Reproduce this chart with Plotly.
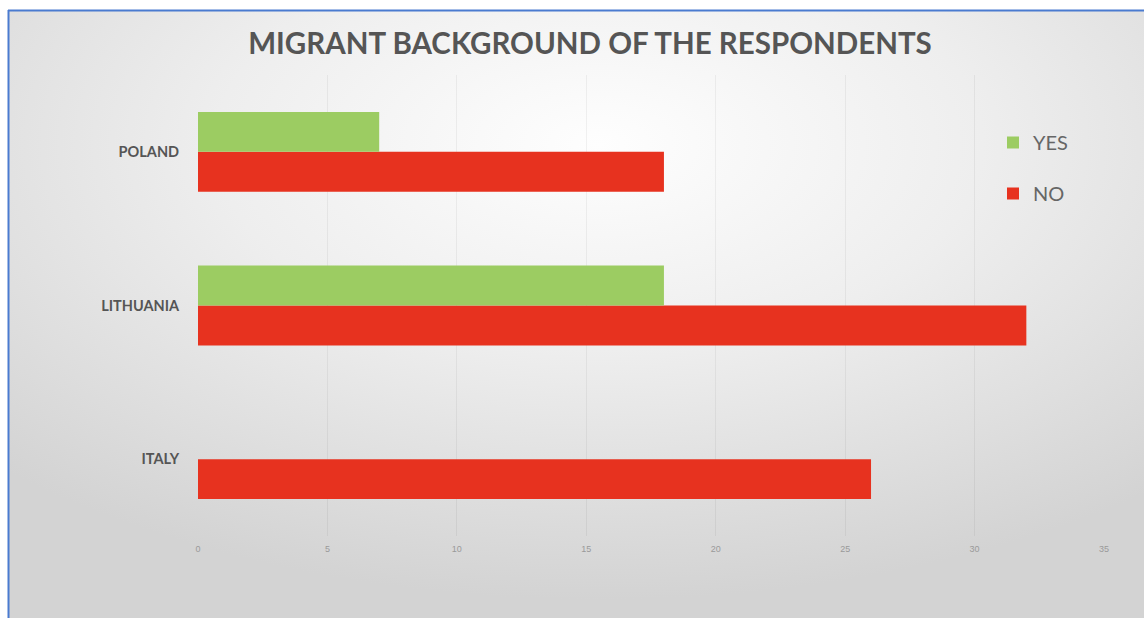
import base64
import plotly.graph_objects as go

# Survey counts by country
countries = ["ITALY", "LITHUANIA", "POLAND"]
yes_counts = [0, 18, 7]
no_counts = [26, 32, 18]
x_ticks = [0, 5, 10, 15, 20, 25, 30, 35]

W, H = 1144, 618
L, R, T, B = 198, 40, 75, 82
plot_w = W - L - R
plot_h = H - T - B

# Soft radial-gradient card with a thin blue frame on the top and left
bg_svg = f"""<svg xmlns='http://www.w3.org/2000/svg' width='{W}' height='{H}' viewBox='0 0 {W} {H}' preserveAspectRatio='none'>
<defs>
<radialGradient id='g' cx='52%' cy='22%' r='75%'>
<stop offset='0' stop-color='#fefefe'/>
<stop offset='0.45' stop-color='#eeeeee'/>
<stop offset='1' stop-color='#d3d3d3'/>
</radialGradient>
</defs>
<rect x='0' y='0' width='{W}' height='{H}' fill='#ffffff'/>
<rect x='9' y='11' width='{W - 9}' height='{H - 11}' fill='url(#g)'/>
<line x1='8' y1='10.5' x2='{W}' y2='10.5' stroke='#4a7bd0' stroke-width='2'/>
<line x1='8.5' y1='10' x2='8.5' y2='{H}' stroke='#4a7bd0' stroke-width='2'/>
</svg>"""
bg_uri = "data:image/svg+xml;base64," + base64.b64encode(bg_svg.encode()).decode()

fig = go.Figure()
fig.add_trace(go.Bar(
    y=countries, x=no_counts, orientation="h", name="NO",
    marker=dict(color="#e7321f", line=dict(width=0)),
    legendgroup="no", legendrank=2,
))
fig.add_trace(go.Bar(
    y=countries, x=yes_counts, orientation="h", name="YES",
    marker=dict(color="#9ccc62", line=dict(width=0)),
    legendgroup="yes", legendrank=1,
))

fig.update_layout(
    width=W, height=H,
    margin=dict(l=L, r=R, t=T, b=B),
    paper_bgcolor="#ffffff",
    plot_bgcolor="rgba(0,0,0,0)",
    barmode="group",
    bargap=0.48,
    bargroupgap=0,
    title=dict(
        text="<b>MIGRANT BACKGROUND OF THE RESPONDENTS</b>",
        x=(590) / W, xanchor="center",
        y=1 - 44 / H, yanchor="middle",
        font=dict(family="Lato, DejaVu Sans, sans-serif", size=29.5, color="#555555"),
    ),
    xaxis=dict(
        range=[0, 35],
        tickvals=x_ticks,
        ticktext=[str(v) for v in x_ticks],
        showgrid=True,
        gridcolor="rgba(0,0,0,0.05)",
        gridwidth=1,
        zeroline=False,
        showline=False,
        ticks="outside", ticklen=4, tickcolor="rgba(0,0,0,0)",
        tickfont=dict(family="Liberation Sans Narrow, Liberation Sans, sans-serif", size=9, color="#9a9a9a"),
    ),
    yaxis=dict(
        categoryorder="array",
        categoryarray=countries,
        showgrid=False,
        zeroline=False,
        showline=False,
        ticks="outside", ticklen=15, tickcolor="rgba(0,0,0,0)",
        tickfont=dict(family="Lato, DejaVu Sans, sans-serif", size=14.5, color="#555555"),
    ),
    legend=dict(
        x=(993 - L) / plot_w, xanchor="left",
        y=(H - B - 123) / plot_h, yanchor="top",
        bgcolor="rgba(0,0,0,0)",
        traceorder="grouped",
        tracegroupgap=22,
        font=dict(family="Lato, DejaVu Sans, sans-serif", size=20, color="#666666"),
        itemwidth=30,
    ),
    showlegend=True,
    images=[dict(
        source=bg_uri,
        xref="paper", yref="paper",
        x=-L / plot_w, y=(plot_h + T) / plot_h,
        sizex=W / plot_w, sizey=H / plot_h,
        xanchor="left", yanchor="top",
        sizing="stretch", layer="below",
    )],
)

# Bold category labels
fig.update_yaxes(ticktext=[f"<b>{c}</b>" for c in countries], tickvals=countries)

fig.write_html("out.html")
